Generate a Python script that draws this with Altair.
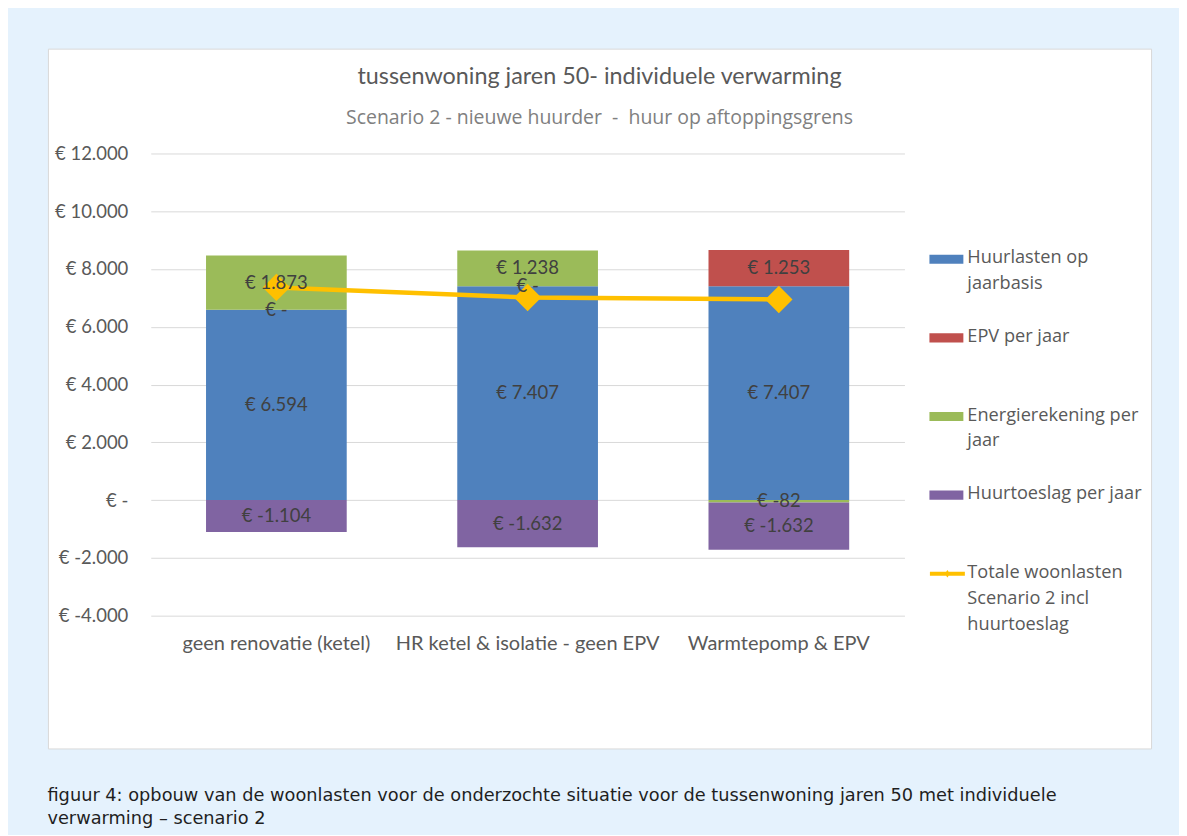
import altair as alt
import pandas as pd

# ---------------- data ----------------
categories = ["geen renovatie (ketel)", "HR ketel & isolatie - geen EPV", "Warmtepomp & EPV"]
series_names = ["Huurlasten op jaarbasis", "EPV per jaar", "Energierekening per jaar", "Huurtoeslag per jaar"]
huurlasten = [6594, 7407, 7407]
epv = [0, 0, 1253]
energierekening = [1873, 1238, -82]
huurtoeslag = [-1104, -1632, -1632]
totale_woonlasten = [7363, 7013, 6946]
line_name = "Totale woonlasten Scenario 2 incl huurtoeslag"
y_ticks = [-4000, -2000, 0, 2000, 4000, 6000, 8000, 10000, 12000]
series_colors = ["#4F81BD", "#C0504D", "#9BBB59", "#8064A2"]
line_color = "#FFC000"
legend_labels = [
    "Huurlasten op\njaarbasis",
    "EPV per jaar",
    "Energierekening per\njaar",
    "Huurtoeslag per jaar",
    "Totale woonlasten\nScenario 2 incl\nhuurtoeslag",
]
title_text = "tussenwoning jaren 50- individuele verwarming"
subtitle_text = "Scenario 2 - nieuwe huurder \u00a0-\u00a0 huur op aftoppingsgrens"
caption_lines = [
    "figuur 4: opbouw van de woonlasten voor de onderzochte situatie voor de tussenwoning jaren 50 met individuele",
    "verwarming \u2013 scenario 2",
]

FONT = "Lato"
LEG_FONT = "Open Sans"
CAP_FONT = "DejaVu Sans"
TEXT_DARK = "#404040"
AXIS_GREY = "#595959"


def eur(v):
    if v == 0:
        return "\u20ac -"
    s = f"{abs(v):,}".replace(",", ".")
    return f"\u20ac -{s}" if v < 0 else f"\u20ac {s}"


rows = []
for i, cat in enumerate(categories):
    for k, (name, vals) in enumerate(zip(series_names, [huurlasten, epv, energierekening, huurtoeslag])):
        rows.append({"cat": cat, "series": name, "order": k, "value": vals[i], "label": eur(vals[i])})
bars_df = pd.DataFrame(rows)
line_df = pd.DataFrame({"cat": categories, "total": totale_woonlasten})
xlab_df = pd.DataFrame({"cat": categories, "base": [y_ticks[0]] * len(categories)})

legend_keys = series_names + [line_name]
legend_df = pd.DataFrame({"key": legend_keys, "text": legend_labels})
swatch_df = pd.DataFrame({"key": series_names, "series": series_names})
line_key_df = pd.DataFrame({"key": [line_name]})

# ---------------- scales / axes ----------------
W, H = 1105, 701
x_scale = alt.Scale(domain=categories, range=[103, 858], paddingInner=0.44, paddingOuter=0.22)
y_scale = alt.Scale(domain=[-4000, 12000], range=[568, 105], nice=False, zero=False)
color_scale = alt.Scale(domain=series_names, range=series_colors)

y_axis = alt.Axis(
    title=None, values=y_ticks, offset=-103, labelPadding=23, domain=False, ticks=False, tickSize=0,
    grid=True, gridColor="#d9d9d9", gridWidth=1,
    labelFontSize=18.5, labelColor=AXIS_GREY, labelFont=FONT,
    labelExpr="datum.value == 0 ? '\u20ac -' : '\u20ac ' + replace(replace(format(datum.value, ',.0f'), ',', '.'), '\u2212', '-')",
)

X = alt.X("cat:N", sort=categories, scale=x_scale, axis=None)

stacked = (
    alt.Chart(bars_df)
    .transform_stack(stack="value", groupby=["cat"], sort=[alt.SortField("order")], as_=["v0", "v1"])
    .transform_calculate(mid="(datum.v0 + datum.v1) / 2")
)

bars = stacked.mark_bar().encode(
    x=X,
    y=alt.Y("v0:Q", scale=y_scale, axis=y_axis),
    y2="v1:Q",
    color=alt.Color("series:N", scale=color_scale, legend=None),
)

line = alt.Chart(line_df).mark_line(color=line_color, strokeWidth=4.5).encode(
    x=X, y=alt.Y("total:Q", scale=y_scale, axis=None)
)
points = alt.Chart(line_df).mark_point(
    shape="diamond", filled=True, size=750, color=line_color, opacity=1
).encode(x=X, y=alt.Y("total:Q", scale=y_scale, axis=None))

labels = stacked.mark_text(fontSize=18.5, color=TEXT_DARK, font=FONT).encode(
    x=X, y=alt.Y("mid:Q", scale=y_scale, axis=None), text="label:N"
)

# category labels under the plot (x axis labels)
xlabels = alt.Chart(xlab_df).mark_text(
    fontSize=20, color=AXIS_GREY, font=FONT, baseline="middle", dy=28
).encode(x=X, y=alt.Y("base:Q", scale=y_scale, axis=None), text="cat:N")

# ---------------- legend (drawn as marks, positioned by a point scale) ----------------
leg_y = alt.Y("key:N", scale=alt.Scale(domain=legend_keys, range=[201, 516], padding=0), axis=None)
rect_path = "M-1,-0.27 L1,-0.27 L1,0.27 L-1,0.27 Z"
swatches = alt.Chart(swatch_df).mark_point(
    shape=rect_path, filled=True, size=1156, opacity=1, yOffset=10
).encode(
    x=alt.value(900), y=leg_y,
    color=alt.Color("series:N", scale=color_scale, legend=None),
)
line_sym_path = "M-1,-0.12 L1,-0.12 L1,0.12 L-1,0.12 Z M0,-0.22 L0.15,0 L0,0.22 L-0.15,0 Z"
line_swatch = alt.Chart(line_key_df).mark_point(
    shape=line_sym_path, filled=True, size=1225, opacity=1, color=line_color, yOffset=10
).encode(x=alt.value(901), y=leg_y)
leg_text = alt.Chart(legend_df).mark_text(
    align="left", baseline="top", lineBreak="\n", lineHeight=26,
    fontSize=18.2, font=LEG_FONT, color=AXIS_GREY,
).encode(x=alt.value(921), y=leg_y, text="text:N")

chart_box = (
    alt.layer(bars, line, points, labels, xlabels, swatches, line_swatch, leg_text)
    .resolve_scale(y="independent")
    .properties(
        width=W, height=H,
        title=alt.TitleParams(
            text=title_text, subtitle=subtitle_text, anchor="middle", frame="group",
            baseline="top", offset=-80, font=FONT, fontSize=23.4, fontWeight="normal", color=AXIS_GREY,
            subtitleFont=LEG_FONT, subtitleFontSize=19.5, subtitleColor="#808080", subtitlePadding=20,
        ),
    )
)

chart = (
    alt.vconcat(chart_box)
    .properties(
        title=alt.TitleParams(
            text=caption_lines, orient="bottom", anchor="start", frame="bounds", baseline="top",
            offset=38, font=CAP_FONT, fontSize=17.8, fontWeight="normal", color="#1f1f1f", lineHeight=23,
        ),
        background="#e5f2fd",
        padding={"left": 39, "top": 39, "right": 27, "bottom": 6},
    )
    .configure_view(fill="white", stroke="#d9d9d9", strokeWidth=1)
)

chart.save("out.html", embed_options={"renderer": "svg", "actions": False})
